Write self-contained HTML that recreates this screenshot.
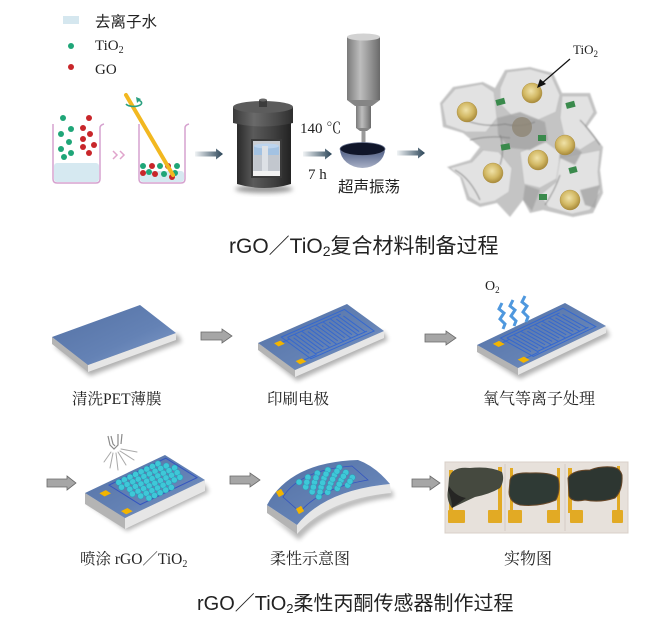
<!DOCTYPE html>
<html><head><meta charset="utf-8"><style>
html,body{margin:0;padding:0;background:#fff;}
svg{display:block;}
.sans{font-family:"Liberation Sans","Noto Sans CJK SC",sans-serif;}
.serif{font-family:"Liberation Serif","Noto Serif CJK SC",serif;}
.el path,.el rect{vector-effect:non-scaling-stroke;}
</style></head><body>
<svg width="670" height="624" viewBox="0 0 670 624" xmlns="http://www.w3.org/2000/svg">
<defs>
<linearGradient id="arG" x1="0" y1="0" x2="1" y2="0"><stop offset="0" stop-color="#f0f3f5"/><stop offset="1" stop-color="#2a4457"/></linearGradient>
<linearGradient id="metalG" x1="0" y1="0" x2="1" y2="0"><stop offset="0" stop-color="#2a2a2a"/><stop offset="0.3" stop-color="#5a5a5a"/><stop offset="0.7" stop-color="#3e3e3e"/><stop offset="1" stop-color="#222"/></linearGradient>
<linearGradient id="lidG" x1="0" y1="0" x2="1" y2="0"><stop offset="0" stop-color="#3a3a3a"/><stop offset="0.35" stop-color="#6a6a6a"/><stop offset="0.75" stop-color="#484848"/><stop offset="1" stop-color="#2e2e2e"/></linearGradient>
<linearGradient id="greyG" x1="0" y1="0" x2="1" y2="0"><stop offset="0" stop-color="#7a7a7a"/><stop offset="0.4" stop-color="#bdbdbd"/><stop offset="0.75" stop-color="#8e8e8e"/><stop offset="1" stop-color="#6a6a6a"/></linearGradient>
<linearGradient id="bowlG" x1="0" y1="0" x2="0" y2="1"><stop offset="0" stop-color="#4a5a82"/><stop offset="1" stop-color="#a8b0c6"/></linearGradient>
<linearGradient id="slabG" x1="0" y1="0" x2="1" y2="1"><stop offset="0" stop-color="#5471a4"/><stop offset="0.6" stop-color="#6482b5"/><stop offset="1" stop-color="#86a0cb"/></linearGradient>
<radialGradient id="goldG" cx="0.45" cy="0.4" r="0.6"><stop offset="0" stop-color="#f0e2a8"/><stop offset="0.6" stop-color="#d2b864"/><stop offset="1" stop-color="#a88a3a"/></radialGradient>
<filter id="blur" x="-20%" y="-50%" width="140%" height="200%"><feGaussianBlur stdDeviation="2.5"/></filter>
<filter id="soft" x="-10%" y="-10%" width="120%" height="120%"><feGaussianBlur stdDeviation="0.8"/></filter>
</defs>
<rect width="670" height="624" fill="#fff"/>

<!-- Legend -->
<rect x="63" y="16" width="16" height="8" fill="#d5e7ef"/>
<text x="95" y="27" class="sans" font-size="15.5" fill="#222">去离子水</text>
<circle cx="71" cy="46" r="3" fill="#1fa678"/>
<text x="95" y="50" class="serif" font-size="15" fill="#222">TiO<tspan font-size="10" dy="3">2</tspan></text>
<circle cx="71" cy="67" r="3" fill="#c8262a"/>
<text x="95" y="74" class="serif" font-size="15" fill="#222">GO</text>

<!-- Beaker 1 -->
<rect x="54" y="163" width="45" height="19" rx="3" fill="#d6e9f1"/>
<path d="M53,124 L53,179 Q53,183 57,183 L96,183 Q100,183 100,179 L100,128 Q100,125 104,124" fill="none" stroke="#d6a2cf" stroke-width="1.5"/>
<g fill="#1fa678"><circle cx="63" cy="118" r="3"/><circle cx="71" cy="129" r="3"/><circle cx="61" cy="134" r="3"/><circle cx="69" cy="142" r="3"/><circle cx="61" cy="149" r="3"/><circle cx="71" cy="153" r="3"/><circle cx="64" cy="157" r="3"/></g>
<g fill="#c8262a"><circle cx="89" cy="118" r="3"/><circle cx="83" cy="128" r="3"/><circle cx="90" cy="134" r="3"/><circle cx="83" cy="139" r="3"/><circle cx="94" cy="145" r="3"/><circle cx="83" cy="147" r="3"/><circle cx="89" cy="153" r="3"/></g>
<polyline points="113,151 117,155 113,159" fill="none" stroke="#e0a4cc" stroke-width="1.5"/>
<polyline points="120,151 124,155 120,159" fill="none" stroke="#e0a4cc" stroke-width="1.5"/>

<!-- Beaker 2 -->
<rect x="140" y="171" width="44" height="11" rx="3" fill="#d6e9f1"/>
<path d="M139,124 L139,179 Q139,183 143,183 L181,183 Q185,183 185,179 L185,128 Q185,125 189,124" fill="none" stroke="#d6a2cf" stroke-width="1.5"/>
<g fill="#1fa678"><circle cx="143" cy="166" r="3"/><circle cx="160" cy="166" r="3"/><circle cx="177" cy="166" r="3"/><circle cx="149" cy="172" r="3"/><circle cx="164" cy="174" r="3"/><circle cx="175" cy="173" r="3"/></g>
<g fill="#c8262a"><circle cx="152" cy="166" r="3"/><circle cx="168" cy="166" r="3"/><circle cx="143" cy="173" r="3"/><circle cx="155" cy="174" r="3"/><circle cx="172" cy="177" r="3"/></g>
<line x1="126" y1="95" x2="173" y2="175" stroke="#f2b820" stroke-width="4" stroke-linecap="round"/>
<path d="M126,104 A8,3.5 0 1 0 138,100" fill="none" stroke="#2aa080" stroke-width="1.6"/>
<polygon points="136,97 141,99 137,103" fill="#2aa080"/>

<!-- Arrow A -->
<path d="M195,151.5 L216,151.5 L216,148.5 L223,154 L216,159.5 L216,156.5 L195,156.5 Z" fill="url(#arG)"/>

<!-- Autoclave -->
<ellipse cx="264" cy="189" rx="29" ry="4" fill="#999" filter="url(#blur)"/>
<path d="M237,122 L237,184 Q264,192 291,184 L291,122 Z" fill="url(#metalG)"/>
<rect x="251" y="139" width="31" height="39" fill="#3a3a3a"/>
<rect x="253" y="141" width="27" height="35" fill="#c9cdd3"/>
<rect x="254" y="146" width="25" height="9" fill="#a3c2e2"/>
<ellipse cx="266.5" cy="146" rx="12.5" ry="2.5" fill="#bcd4ee"/>
<rect x="254" y="155" width="25" height="16" fill="#c2c7ce"/>
<rect x="262" y="146" width="6" height="25" fill="#dde1e6"/>
<rect x="253" y="171" width="27" height="5" fill="#f2f2f2"/>
<path d="M233,107 L233,123 Q263,130 293,123 L293,107 Z" fill="url(#lidG)"/>
<ellipse cx="263" cy="107" rx="30" ry="6" fill="#5c5c5c"/>
<rect x="259" y="100" width="8" height="7" fill="#3c3c3c"/>
<ellipse cx="263" cy="100" rx="4" ry="1.5" fill="#666"/>

<text x="300" y="133" class="serif" font-size="15" fill="#222">140 ℃</text>
<text x="308" y="179" class="serif" font-size="15" fill="#222">7 h</text>
<!-- Arrow B -->
<path d="M303,151.5 L325,151.5 L325,148.5 L332,154 L325,159.5 L325,156.5 L303,156.5 Z" fill="url(#arG)"/>

<!-- Ultrasonic -->
<rect x="347" y="37" width="33" height="63" fill="url(#greyG)"/>
<ellipse cx="363.5" cy="37" rx="16.5" ry="3.5" fill="#d2d2d2"/>
<polygon points="347,100 380,100 372,106 355,106" fill="#858585"/>
<rect x="356" y="106" width="15" height="22" fill="url(#greyG)"/>
<polygon points="356,128 371,128 367,131 360,131" fill="#858585"/>
<rect x="361.5" y="131" width="4" height="13" fill="#9a9a9a"/>
<path d="M340,149 A22.5,19 0 0 0 385,149 Z" fill="url(#bowlG)"/>
<ellipse cx="362.5" cy="149" rx="22.5" ry="6.5" fill="#10162a" stroke="#6a7490" stroke-width="0.8"/>
<text x="338" y="192" class="sans" font-size="15.5" fill="#222">超声振荡</text>
<!-- Arrow C -->
<path d="M397,150.5 L418,150.5 L418,147.5 L425,153 L418,158.5 L418,155.5 L397,155.5 Z" fill="url(#arG)"/>

<!-- Composite -->
<g filter="url(#soft)">
<polygon points="440,103 453,87 483,82 495,88 505,70 530,67 553,73 562,93 590,93 597,113 587,127 603,147 600,170 603,193 593,213 573,217 543,210 530,213 523,200 510,217 497,203 480,207 467,200 460,177 447,167 470,160 480,147 463,133 443,127" fill="#c4c4c4"/>
<g fill="#e2e2e2" stroke="#b4b4b4" stroke-width="0.6">
<polygon points="442,104 455,89 482,84 494,92 497,118 486,132 466,132 446,125"/>
<polygon points="500,88 507,72 530,69 551,75 560,95 556,112 538,120 512,116 500,104"/>
<polygon points="562,96 588,96 594,112 585,126 596,140 580,150 565,140 560,118"/>
<polygon points="450,168 472,162 483,150 499,152 512,168 509,192 495,201 480,204 469,197 462,178"/>
<polygon points="520,152 546,142 560,152 558,178 540,188 524,184"/>
<polygon points="560,158 600,150 598,172 600,192 590,210 572,214 548,207 540,195 556,182"/>
</g>
<g fill="#a4a4a4" opacity="0.8">
<polygon points="497,118 520,112 545,122 548,140 530,150 510,148 498,135"/>
<polygon points="560,140 582,152 575,165 560,158"/>
<polygon points="525,185 540,190 532,211 523,200"/>
<polygon points="580,190 600,185 595,208 585,205"/>
</g>
<g fill="none" stroke="#7a7a7a" stroke-width="1.1" opacity="0.8">
<path d="M465,120 Q485,128 505,124 Q520,128 535,122"/>
<path d="M470,140 Q490,135 510,138"/>
<path d="M455,170 Q470,178 480,200"/>
<path d="M580,120 Q590,130 600,145"/>
<path d="M545,205 Q555,190 560,175"/>
<path d="M500,135 Q505,150 500,165"/>
</g>
</g>
<g fill="url(#goldG)" stroke="#a88a3a" stroke-width="0.4">
<circle cx="532" cy="93" r="10"/><circle cx="467" cy="112" r="10"/><circle cx="565" cy="145" r="10"/><circle cx="538" cy="160" r="10"/><circle cx="493" cy="173" r="10"/><circle cx="570" cy="200" r="10"/>
</g>
<circle cx="522" cy="127" r="10" fill="#8e8674" opacity="0.8"/>
<g fill="#3a8a4c">
<rect x="496" y="99" width="9" height="6" transform="rotate(-15 500 102)"/>
<rect x="566" y="102" width="9" height="6" transform="rotate(-15 570 105)"/>
<rect x="538" y="135" width="8" height="6"/>
<rect x="501" y="144" width="9" height="6" transform="rotate(-10 505 147)"/>
<rect x="569" y="167" width="8" height="6" transform="rotate(-15 573 170)"/>
<rect x="539" y="194" width="8" height="6"/>
</g>
<text x="573" y="54" class="serif" font-size="13" fill="#222">TiO<tspan font-size="9" dy="3">2</tspan></text>
<line x1="570" y1="59" x2="541" y2="84" stroke="#111" stroke-width="1.2"/>
<polygon points="537,88 540,79 546,84" fill="#111"/>

<text x="229" y="253" class="sans" font-size="21" fill="#222">rGO／TiO<tspan font-size="14" dy="3">2</tspan><tspan dy="-3">复合材料制备过程</tspan></text>

<!-- Slab 1 -->
<polygon points="54,346 90,376 182,342 178,334" fill="#000" opacity="0.3" filter="url(#blur)"/>
<polygon points="52,337 88,365 88,372 52,344" fill="#b4b4b4"/>
<polygon points="88,365 176,333 176,340 88,372" fill="#e6e6e6"/>
<polygon points="52,337 140,305 176,333 88,365" fill="url(#slabG)"/>
<text x="72" y="404" class="serif" font-size="15.5" fill="#222">清洗PET薄膜</text>

<!-- Grey arrow 1 -->
<path d="M201,332 L222,332 L222,329 L232,336 L222,343 L222,340 L201,340 Z" fill="#a6a6a6" stroke="#6a6a6a" stroke-width="0.8"/>

<!-- Slab 2 -->
<polygon points="260,351 297,381 388,340 384,332" fill="#000" opacity="0.3" filter="url(#blur)"/>
<polygon points="258,343 295,370 295,377 258,350" fill="#b4b4b4"/>
<polygon points="295,370 384,331 384,338 295,377" fill="#e6e6e6"/>
<polygon points="258,343 347,304 384,331 295,370" fill="url(#slabG)"/>
<g class="el" transform="matrix(0.89,-0.39,0.37,0.27,258,343)">
<path d="M22,10H93V90H22Z M26,17H86 M26,17V76 M34,17V76 M42,17V76 M50,17V76 M58,17V76 M66,17V76 M74,17V76 M82,17V76 M30,83H88 M30,83V24 M38,83V24 M46,83V24 M54,83V24 M62,83V24 M70,83V24 M78,83V24 M86,83V24 M17,23H26 M15,86H30" fill="none" stroke="#3468d0" stroke-width="1"/>
<rect x="11" y="17" width="7" height="12" fill="#f2b400"/>
<rect x="9" y="80" width="7" height="12" fill="#f2b400"/>
</g>
<text x="267" y="404" class="serif" font-size="15.5" fill="#222">印刷电极</text>

<!-- Grey arrow 2 -->
<path d="M425,334 L446,334 L446,331 L456,338 L446,345 L446,342 L425,342 Z" fill="#a6a6a6" stroke="#6a6a6a" stroke-width="0.8"/>

<!-- Slab 3 -->
<polygon points="479,353 520,379 610,336 606,328" fill="#000" opacity="0.3" filter="url(#blur)"/>
<polygon points="477,345 518,368 518,375 477,352" fill="#b4b4b4"/>
<polygon points="518,368 606,326 606,333 518,375" fill="#e6e6e6"/>
<polygon points="477,345 565,303 606,326 518,368" fill="url(#slabG)"/>
<g class="el" transform="matrix(0.88,-0.42,0.41,0.23,477,345)">
<path d="M22,10H93V90H22Z M26,17H86 M26,17V76 M34,17V76 M42,17V76 M50,17V76 M58,17V76 M66,17V76 M74,17V76 M82,17V76 M30,83H88 M30,83V24 M38,83V24 M46,83V24 M54,83V24 M62,83V24 M70,83V24 M78,83V24 M86,83V24 M17,23H26 M15,86H30" fill="none" stroke="#3468d0" stroke-width="1"/>
<rect x="11" y="15" width="7" height="14" fill="#f2b400"/>
<rect x="9" y="80" width="7" height="14" fill="#f2b400"/>
</g>
<text x="485" y="290" class="serif" font-size="14" fill="#222">O<tspan font-size="9" dy="3">2</tspan></text>
<g fill="none" stroke="#4f98de" stroke-width="3" stroke-linejoin="miter">
<polyline points="502,303 499,309 504,313 500,319 505,324 503,329"/>
<polyline points="513,300 510,306 515,310 511,316 516,321 514,326"/>
<polyline points="525,296 522,302 527,306 523,312 528,317 526,322"/>
</g>
<text x="483" y="404" class="serif" font-size="16" fill="#222">氧气等离子处理</text>

<!-- Row 2 arrow 3 -->
<path d="M47,479 L67,479 L67,476 L76,483 L67,490 L67,487 L47,487 Z" fill="#a6a6a6" stroke="#6a6a6a" stroke-width="0.8"/>

<!-- Spray -->
<g stroke="#8a8a8a" stroke-width="1.2" fill="none">
<path d="M108,436 L110,445 L114,449 L118,445 L118,434"/>
<path d="M111,436 L113,444 L115,446"/>
<path d="M122,434 L121,444"/>
</g>
<g stroke="#a8a8a8" stroke-width="1" stroke-linecap="round">
<line x1="111" y1="452" x2="104" y2="462"/><line x1="113" y1="453" x2="110" y2="468"/><line x1="116" y1="453" x2="118" y2="470"/><line x1="118" y1="452" x2="126" y2="465"/><line x1="120" y1="451" x2="134" y2="460"/><line x1="121" y1="449" x2="137" y2="452"/>
</g>

<!-- Slab 4 -->
<polygon points="87,503 127,531 209,492 205,484" fill="#000" opacity="0.3" filter="url(#blur)"/>
<polygon points="85,493 125,518 125,529 85,504" fill="#b4b4b4"/>
<polygon points="125,518 205,480 205,491 125,529" fill="#e6e6e6"/>
<polygon points="85,493 165,455 205,480 125,518" fill="url(#slabG)"/>
<g class="el" transform="matrix(0.8,-0.38,0.4,0.25,85,493)">
<path d="M26,8H97V86H26Z" fill="none" stroke="#3355c0" stroke-width="1"/>
<rect x="10" y="16" width="8" height="13" fill="#f2b400"/>
<rect x="5" y="80" width="8" height="13" fill="#f2b400"/>
</g>
<g fill="#3ec8d8" stroke="#2a9cb6" stroke-width="0.5">
<circle cx="118.8" cy="482.4" r="3"/><circle cx="124.4" cy="479.8" r="3"/><circle cx="130" cy="477.1" r="3"/><circle cx="135.6" cy="474.5" r="3"/><circle cx="141.2" cy="471.8" r="3"/><circle cx="146.8" cy="469.1" r="3"/><circle cx="152.4" cy="466.5" r="3"/><circle cx="158" cy="463.8" r="3"/>
<circle cx="121.5" cy="487.2" r="3"/><circle cx="127.1" cy="484.5" r="3"/><circle cx="132.7" cy="481.8" r="3"/><circle cx="138.3" cy="479.2" r="3"/><circle cx="143.9" cy="476.5" r="3"/><circle cx="149.5" cy="473.9" r="3"/><circle cx="155.1" cy="471.2" r="3"/><circle cx="160.7" cy="468.5" r="3"/><circle cx="166.3" cy="465.9" r="3"/>
<circle cx="129.8" cy="489.2" r="3"/><circle cx="135.4" cy="486.5" r="3"/><circle cx="141" cy="483.9" r="3"/><circle cx="146.6" cy="481.2" r="3"/><circle cx="152.2" cy="478.6" r="3"/><circle cx="157.8" cy="475.9" r="3"/><circle cx="163.4" cy="473.2" r="3"/><circle cx="169" cy="470.6" r="3"/><circle cx="174.6" cy="467.9" r="3"/>
<circle cx="132.4" cy="493.9" r="3"/><circle cx="138" cy="491.2" r="3"/><circle cx="143.6" cy="488.6" r="3"/><circle cx="149.2" cy="485.9" r="3"/><circle cx="154.8" cy="483.3" r="3"/><circle cx="160.4" cy="480.6" r="3"/><circle cx="166" cy="477.9" r="3"/><circle cx="171.6" cy="475.3" r="3"/><circle cx="177.2" cy="472.6" r="3"/>
<circle cx="140.7" cy="496" r="3"/><circle cx="146.3" cy="493.3" r="3"/><circle cx="151.9" cy="490.6" r="3"/><circle cx="157.5" cy="488" r="3"/><circle cx="163.1" cy="485.3" r="3"/><circle cx="168.7" cy="482.7" r="3"/><circle cx="174.3" cy="480" r="3"/><circle cx="179.9" cy="477.3" r="3"/>
<circle cx="148.9" cy="498" r="3"/><circle cx="154.5" cy="495.4" r="3"/><circle cx="160.1" cy="492.7" r="3"/><circle cx="165.7" cy="490" r="3"/><circle cx="171.3" cy="487.4" r="3"/>
</g>
<text x="80" y="564" class="serif" font-size="15.5" fill="#222">喷涂 rGO／TiO<tspan font-size="10" dy="3">2</tspan></text>

<!-- Arrow 4 -->
<path d="M230,476 L250,476 L250,473 L260,480 L250,487 L250,484 L230,484 Z" fill="#a6a6a6" stroke="#6a6a6a" stroke-width="0.8"/>

<!-- Slab 5 bent -->
<path d="M269,515 L299,540 Q330,505 394,497 L392,490 Q328,500 297,530 Z" fill="#000" opacity="0.28" filter="url(#blur)"/>
<path d="M267,505 L297,525 L297,534 L267,513 Z" fill="#b4b4b4"/>
<path d="M297,525 Q325,490 390,484 L391,493 Q328,499 297,534 Z" fill="#e6e6e6"/>
<path d="M267,505 Q290,462 358,460 Q375,466 390,484 Q325,490 297,525 Z" fill="url(#slabG)"/>
<path d="M283,497 Q300,470 352,466 L368,480 Q320,488 300,512 Z" fill="none" stroke="#3355c0" stroke-width="0.8"/>
<rect x="277" y="490" width="6" height="6" transform="rotate(-30 280 493)" fill="#f2b400"/>
<rect x="297" y="507" width="6" height="6" transform="rotate(-30 300 510)" fill="#f2b400"/>
<g fill="#3ec8d8" stroke="#2a9cb6" stroke-width="0.5">
<circle cx="299.1" cy="482.1" r="3"/><circle cx="305.7" cy="486.9" r="3"/><circle cx="312.2" cy="491.8" r="3"/><circle cx="318.8" cy="496.7" r="3"/>
<circle cx="307.9" cy="477.3" r="3"/><circle cx="314.5" cy="482.3" r="3"/><circle cx="321.1" cy="487.3" r="3"/><circle cx="327.7" cy="492.3" r="3"/>
<circle cx="317.4" cy="473.2" r="3"/><circle cx="324" cy="478.3" r="3"/><circle cx="330.7" cy="483.3" r="3"/><circle cx="337.3" cy="488.4" r="3"/>
<circle cx="327.9" cy="470" r="3"/><circle cx="334.5" cy="475" r="3"/><circle cx="341.1" cy="480.1" r="3"/><circle cx="347.7" cy="485.2" r="3"/>
<circle cx="339.2" cy="467.5" r="3"/><circle cx="345.8" cy="472.5" r="3"/><circle cx="352.3" cy="477.5" r="3"/>
<circle cx="306.8" cy="482.2" r="3"/><circle cx="313.4" cy="487.1" r="3"/><circle cx="320" cy="492" r="3"/>
<circle cx="316" cy="477.8" r="3"/><circle cx="322.6" cy="482.8" r="3"/><circle cx="329.2" cy="487.8" r="3"/>
<circle cx="326" cy="474.1" r="3"/><circle cx="332.6" cy="479.2" r="3"/><circle cx="339.2" cy="484.2" r="3"/>
<circle cx="336.9" cy="471.3" r="3"/><circle cx="343.4" cy="476.3" r="3"/><circle cx="350" cy="481.3" r="3"/>
</g>
<text x="270" y="564" class="serif" font-size="16" fill="#222">柔性示意图</text>

<!-- Arrow 5 -->
<path d="M412,479 L430,479 L430,476 L440,483 L430,490 L430,487 L412,487 Z" fill="#a6a6a6" stroke="#6a6a6a" stroke-width="0.8"/>

<!-- Photo -->
<rect x="445" y="462" width="183" height="71" fill="#e7e1db"/>
<rect x="445" y="462" width="183" height="71" fill="none" stroke="#d8d0c8" stroke-width="1"/>
<line x1="505" y1="464" x2="505" y2="531" stroke="#d4ccc6" stroke-width="1"/>
<line x1="565" y1="464" x2="565" y2="531" stroke="#d4ccc6" stroke-width="1"/>
<g fill="#e2aa24">
<rect x="449" y="470" width="4" height="44"/><rect x="448" y="510" width="17" height="13" rx="1"/>
<rect x="498" y="467" width="4" height="46"/><rect x="488" y="510" width="14" height="13" rx="1"/>
<rect x="510" y="468" width="3" height="45"/><rect x="508" y="510" width="14" height="13" rx="1"/>
<rect x="557" y="468" width="3" height="45"/><rect x="547" y="510" width="13" height="13" rx="1"/>
<rect x="568" y="468" width="4" height="45"/><rect x="570" y="510" width="13" height="13" rx="1"/>
<rect x="617" y="466" width="3" height="47"/><rect x="612" y="510" width="11" height="13" rx="1"/>
</g>
<path d="M449,478 Q452,466 470,468 Q490,466 502,472 Q505,480 500,488 Q490,494 475,497 Q462,503 452,508 Q446,500 448,490 Z" fill="#45493f"/>
<path d="M448,490 Q452,500 452,508 Q460,502 466,498 Q455,496 449,486 Z" fill="#262624"/>
<path d="M510,480 Q512,472 530,473 Q552,472 558,478 Q561,490 556,500 Q540,507 520,505 Q509,502 509,492 Z" fill="#2f3a35" stroke="#6a4a2a" stroke-width="1"/>
<path d="M568,478 Q572,470 590,470 Q600,466 612,467 Q620,468 622,475 Q623,490 615,498 Q600,503 585,500 Q572,503 569,496 Z" fill="#2d3631" stroke="#6a4828" stroke-width="1"/>
<text x="504" y="564" class="serif" font-size="16" fill="#222">实物图</text>

<text x="197" y="610" class="sans" font-size="20" fill="#222">rGO／TiO<tspan font-size="13" dy="3">2</tspan><tspan dy="-3">柔性丙酮传感器制作过程</tspan></text>
</svg>
</body></html>
